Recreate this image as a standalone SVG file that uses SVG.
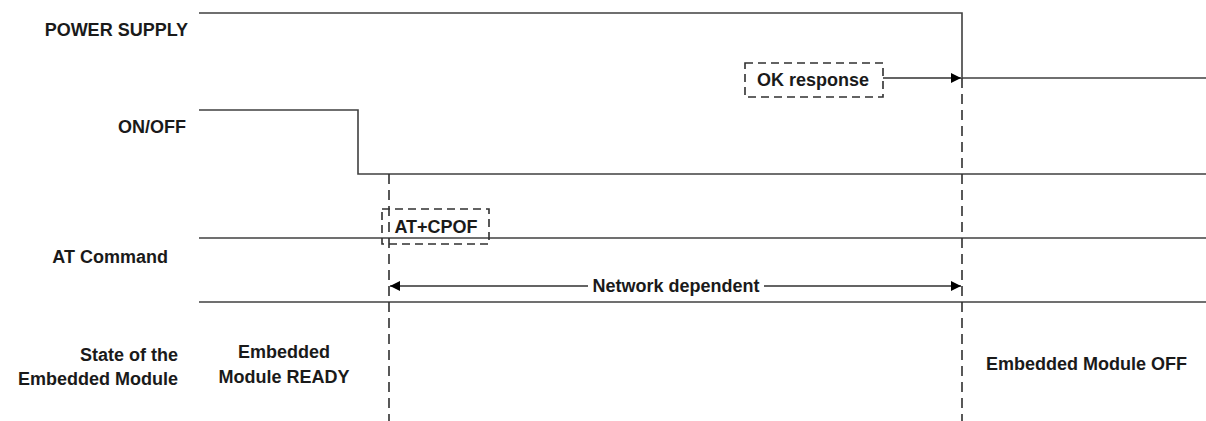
<svg xmlns="http://www.w3.org/2000/svg" width="1206" height="421" viewBox="0 0 1206 421">
<style>
  text { font-family: "Liberation Sans", Arial, sans-serif; font-weight: bold; font-size: 18px; fill: #1a1a1a; }
  .sig { fill: none; stroke: #404040; stroke-width: 1.6; }
  .dash { fill: none; stroke: #303030; stroke-width: 1.6; stroke-dasharray: 10 6; }
  .box { fill: none; stroke: #303030; stroke-width: 1.6; stroke-dasharray: 8 5; }
  .arr { fill: none; stroke: #303030; stroke-width: 1.4; }
  .r { text-anchor: end; }
  .m { text-anchor: middle; }
</style>
<defs>
  <marker id="ah" viewBox="0 0 10 10" refX="10" refY="5" markerWidth="11" markerHeight="10" markerUnits="userSpaceOnUse" orient="auto-start-reverse">
    <path d="M0,0 L10,5 L0,10 z" fill="#000"/>
  </marker>
</defs>

<g id="labels">
  <text class="r" x="188" y="36">POWER SUPPLY</text>
  <text class="r" x="186" y="133">ON/OFF</text>
  <text class="r" x="168" y="263">AT Command</text>
  <text class="r" x="178" y="361">State of the</text>
  <text class="r" x="178" y="385">Embedded Module</text>
</g>

<g id="connectors">
  <path id="power" class="sig" d="M199,13 H962 V78 H1206"/>
  <path id="onoff" class="sig" d="M199,110 H358 V174 H1206"/>
  <path id="atline" class="sig" d="M199,238 H1206"/>
  <path id="stateline" class="sig" d="M199,302 H1206"/>
  <path id="dash1" class="dash" d="M389,174 V421"/>
  <path id="dash2" class="dash" d="M962,78 V421"/>
  <path id="okarrow" class="arr" d="M883,78 H961" marker-end="url(#ah)"/>
  <path id="netarrow" class="arr" d="M390,286 H961" marker-start="url(#ah)" marker-end="url(#ah)"/>
</g>

<g id="network-label">
  <rect x="588" y="276" width="176" height="20" fill="#fff"/>
  <text class="m" x="676" y="292">Network dependent</text>
</g>

<g id="ok-response">
  <rect class="box" x="745" y="63" width="138" height="34" fill="#fff"/>
  <text class="m" x="813" y="86">OK response</text>
</g>

<g id="at-cpof">
  <rect class="box" x="382" y="209" width="107" height="35"/>
  <text class="m" x="436" y="233">AT+CPOF</text>
</g>

<g id="state-ready">
  <text class="m" x="284" y="358">Embedded</text>
  <text class="m" x="284" y="383">Module READY</text>
</g>

<g id="state-off">
  <text x="986" y="370">Embedded Module OFF</text>
</g>
</svg>
